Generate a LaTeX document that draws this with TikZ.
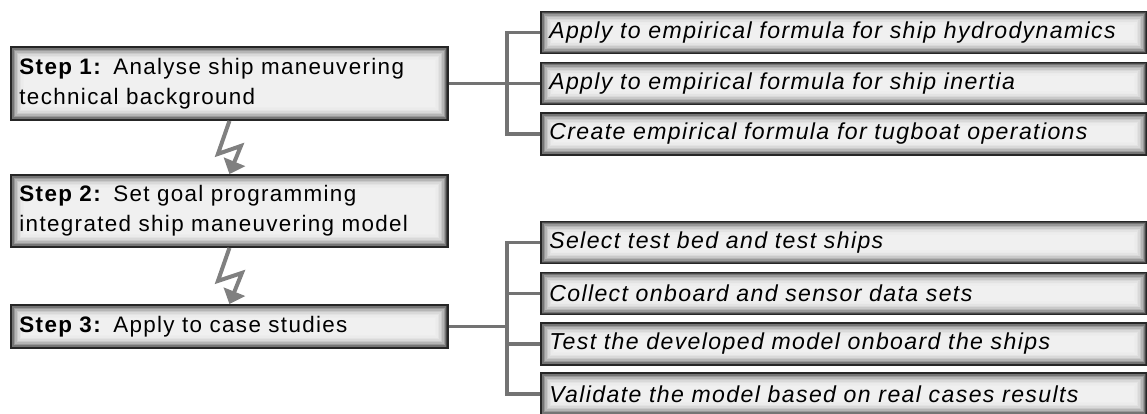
\documentclass[tikz,border=0pt]{standalone}
\usepackage{fontspec}
\setmainfont{Liberation Sans}[LetterSpace=6]
\usetikzlibrary{arrows.meta}

\begin{document}
\begin{tikzpicture}[x=0.75pt,y=-0.75pt,
  box/.style={rectangle, draw=black!85, line width=1.4pt, fill=black!6,
    inner xsep=6pt, inner ysep=0pt, align=left,
    font=\fontsize{16.8}{22.5}\selectfont,
    path picture={
      \foreach \k/\c in {0/72,1/54,2/40,3/29,4/21,5/15,6/11,7/8,8/7}
        \draw[black!\c, line width=1.2pt]
          ([shift={(\k*1.1pt+0.6pt,-\k*1.1pt-0.6pt)}]path picture bounding box.north west)
          rectangle
          ([shift={(-\k*1.1pt-0.6pt,\k*1.1pt+0.6pt)}]path picture bounding box.south east);
    }},
  stepbox/.style={box, anchor=west, minimum width=327.75pt, text width=315pt},
  taskbox/.style={box, anchor=west, minimum width=454.5pt, minimum height=31.5pt,
    text width=442pt, font=\fontsize{17.3}{22.5}\selectfont\itshape},
  link/.style={draw=black!55, line width=2.6pt},
  bolt/.style={draw=black!50, line width=3pt, -{Triangle[width=17pt,length=10pt]}}]
  \useasboundingbox (0,0) rectangle (1147,414);

  \node[stepbox, minimum height=54.75pt] (s1) at (10,83.5)
    {\textbf{Step 1:} Analyse ship maneuvering\\technical background};
  \node[stepbox, minimum height=54pt] (s2) at (10,211)
    {\textbf{Step 2:} Set goal programming\\integrated ship maneuvering model};
  \node[stepbox, minimum height=32.25pt] (s3) at (10,326.5)
    {\textbf{Step 3:} Apply to case studies};

  \node[taskbox] (t1) at (540,32.5) {Apply to empirical formula for ship hydrodynamics};
  \node[taskbox] (t2) at (540,83.5) {Apply to empirical formula for ship inertia};
  \node[taskbox] (t3) at (540,134) {Create empirical formula for tugboat operations};

  \node[taskbox] (b1) at (540,242.5) {Select test bed and test ships};
  \node[taskbox] (b2) at (540,293.5) {Collect onboard and sensor data sets};
  \node[taskbox] (b3) at (540,344) {Test the developed model onboard the ships};
  \node[taskbox] (b4) at (540,394) {Validate the model based on real cases results};

  \coordinate (jt) at (507,83.5);
  \coordinate (jb) at (507,326.5);
  \draw[link] (s1.east) -- (t2.west);
  \draw[link] (t1.west) -| (jt) |- (t3.west);
  \draw[link] (s3.east) -- (jb);
  \draw[link] (b1.west) -| (jb) |- (b4.west);
  \draw[link] (b2.west) -- (b2.west -| jb);
  \draw[link] (b3.west) -- (b3.west -| jb);

  \draw[bolt] (s1.south) -- ++(-11.5,33) -- ++(23,-8) -- (s2.north);
  \draw[bolt] (s2.south) -- ++(-11.5,33) -- ++(24,-8) -- (s3.north);
\end{tikzpicture}
\end{document}
